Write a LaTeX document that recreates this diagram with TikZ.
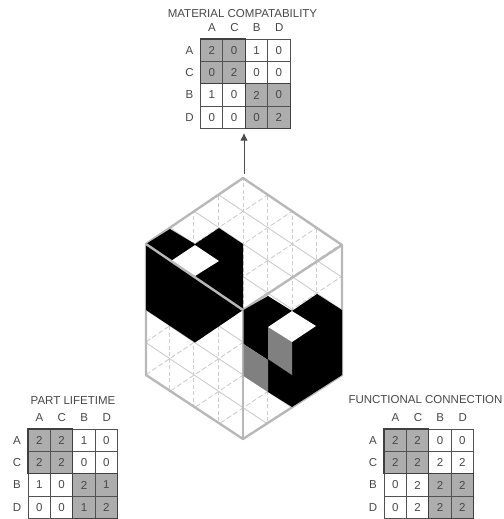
\documentclass[tikz,border=0pt]{standalone}
\usepackage{fontspec}
\setmainfont{Liberation Sans}
\usepackage{xcolor}
\usepackage{tikz}
\usetikzlibrary{arrows.meta,calc}

\definecolor{blockgray}{gray}{0.68}
\definecolor{midgray}{gray}{0.5}
\definecolor{edgegray}{gray}{0.72}
\definecolor{gridgray}{gray}{0.8}

% name, left, top, title x, title y, title, values by row
\newcommand{\relmatrix}[7]{
  \fill[blockgray] (#2,#3) rectangle ++(44.8,44.8);
  \fill[blockgray] (#2+44.8,#3+44.8) rectangle ++(44.8,44.8);
  \foreach \i in {0,...,4} {
    \draw[cellline] (#2+22.4*\i,#3) -- ++(0,89.6);
    \draw[cellline] (#2,#3+22.4*\i) -- ++(89.6,0);
  }
  \draw[blockline] (#2,#3) rectangle ++(44.8,44.8);
  \draw[blockline] (#2+44.8,#3+44.8) rectangle ++(44.8,44.8);
  \node[label] (#1-title) at (#4,#5) {#6};
  \foreach \lab [count=\i from 0] in {A,C,B,D} {
    \node[label] (#1-col-\i) at (#2+11.5+22.4*\i,#3-11) {\lab};
    \node[label] (#1-row-\i) at (#2-11,#3+11.2+22.4*\i) {\lab};
  }
  \foreach \rowvals [count=\r from 0] in {#7} {
    \foreach \v [count=\c from 0] in \rowvals {
      \node[label] (#1-\r-\c) at (#2+11.2+22.4*\c,#3+11.2+22.4*\r) {\v};
    }
  }
}

\begin{document}
\begin{tikzpicture}[x=1pt,y=-1pt,
    label/.style={inner sep=0pt,text=black!72,font=\fontsize{11.5}{13}\selectfont},
    cellline/.style={black!68,line width=0.9pt},
    blockline/.style={black!75,line width=1.1pt},
    edge/.style={edgegray,line width=2.4pt,line join=round}]
  \useasboundingbox (0,0) rectangle (503,519);

  % the grid on the faces of the cube
  \begin{scope}
    \clip (243,178) -- (342,245) -- (342,375) -- (243,439) -- (146,375) -- (146,244) -- cycle;
    \foreach \k in {-3,...,3}
      \draw[gridgray,line width=1pt,dashed,dash pattern=on 4pt off 2.5pt] (243+24.6*\k,170) -- ++(0,280);
    \foreach \k in {0,...,8} {
      \draw[gridgray,line width=0.9pt] (146,113.5+32.75*\k) -- ++(196,131);
      \draw[gridgray,line width=0.9pt,dashed,dash pattern=on 5pt off 2.5pt] (146,243.5+32.75*\k) -- ++(196,-131);
    }
  \end{scope}

  % outline of the cube
  \draw[edge] (243,178) -- (342,245) -- (342,375) -- (243,439) -- (146,375) -- (146,244) -- cycle;
  \draw[edge] (243,310) -- (342,245);
  \draw[edge] (243,310) -- (243,439);

  % filled parts
  \fill[black] (146,244) -- (170,229) -- (195,244) -- (219,228) -- (243,244) -- (243,310)
    -- (195,342.5) -- (146,310) -- cycle;
  \fill[white] (195,245) -- (219,261) -- (195,276) -- (171,261) -- cycle;
  \fill[black] (243.5,310) -- (268,296) -- (292,311) -- (317,294) -- (342,310) -- (342,375)
    -- (292,407) -- (268,392) -- (268,360) -- (243.5,344) -- cycle;
  \fill[midgray] (243.5,344) -- (268,360) -- (268,392) -- (243.5,376) -- cycle;
  \fill[midgray] (268,327) -- (292,342) -- (292,375) -- (268,359) -- cycle;
  \fill[white] (268,327) -- (292,311) -- (316,326) -- (292,342) -- cycle;
  \draw[edge] (146,244) -- (243,310);

  \relmatrix{material}{200.5}{39}{242.5}{13.5}{MATERIAL COMPATABILITY}{{2,0,1,0},{0,2,0,0},{1,0,2,0},{0,0,0,2}}
  \relmatrix{lifetime}{28}{429}{73}{401}{PART LIFETIME}{{2,2,1,0},{2,2,0,0},{1,0,2,1},{0,0,1,2}}
  \relmatrix{functional}{384}{429}{425.5}{400}{FUNCTIONAL CONNECTION}{{2,2,0,0},{2,2,2,2},{0,2,2,2},{0,2,2,2}}

  \coordinate (cubetop) at (244,174);
  \coordinate (matbottom) at (244,133);
  \draw[-{Latex[length=7.5pt,width=7.5pt]},black!70,line width=0.9pt] (cubetop) -- (matbottom);
\end{tikzpicture}
\end{document}
